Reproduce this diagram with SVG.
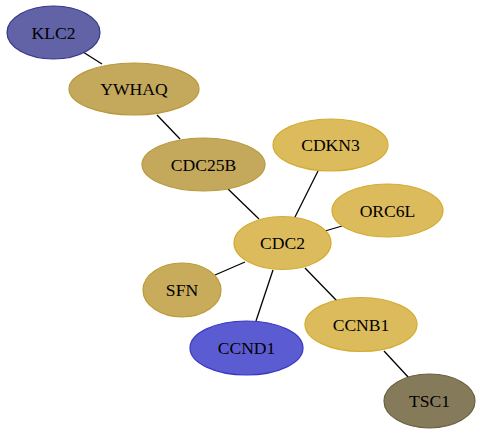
<svg xmlns="http://www.w3.org/2000/svg" width="481" height="435" viewBox="0 0 481 435">
<style>
text{font-family:"Liberation Serif","Times New Roman",serif;font-size:17.6px;text-anchor:middle;fill:#000}
ellipse{stroke-width:1.2}
.e{stroke:#000;stroke-width:1.3;fill:none}
.gold{fill:#dcbb5c;stroke:#d4ac30}
.olive{fill:#c4a85c;stroke:#b89a3c}
</style>
<rect width="481" height="435" fill="#fff"/>
<g id="connectors">
<line class="e" x1="83" y1="52" x2="102" y2="64"/>
<line class="e" x1="157" y1="115" x2="180" y2="139"/>
<line class="e" x1="228" y1="189" x2="259" y2="219"/>
<line class="e" x1="318" y1="171" x2="294" y2="219"/>
<line class="e" x1="342" y1="226" x2="325" y2="231"/>
<line class="e" x1="215" y1="275" x2="245" y2="262"/>
<line class="e" x1="256" y1="321" x2="273" y2="270"/>
<line class="e" x1="305" y1="268" x2="337" y2="301"/>
<line class="e" x1="384" y1="351" x2="409" y2="378"/>
</g>
<g id="KLC2"><ellipse cx="53.5" cy="32.5" rx="46.5" ry="26.5" fill="#6262a6" stroke="#36368a"/><text x="53.5" y="38.5">KLC2</text></g>
<g id="YWHAQ"><ellipse class="olive" cx="134" cy="89" rx="65" ry="26"/><text x="134" y="95">YWHAQ</text></g>
<g id="CDC25B"><ellipse class="olive" cx="203.5" cy="164.5" rx="61.5" ry="26.5"/><text x="203.5" y="170.5">CDC25B</text></g>
<g id="CDKN3"><ellipse class="gold" cx="330.5" cy="145" rx="57.5" ry="26"/><text x="330.5" y="151">CDKN3</text></g>
<g id="ORC6L"><ellipse class="gold" cx="387.5" cy="210.5" rx="55.5" ry="26.5"/><text x="387.5" y="216.5">ORC6L</text></g>
<g id="CDC2"><ellipse class="gold" cx="282.5" cy="243" rx="48.5" ry="26.5"/><text x="282.5" y="249">CDC2</text></g>
<g id="SFN"><ellipse cx="182" cy="290" rx="39" ry="27" fill="#c8ac5c" stroke="#bc9c34"/><text x="182" y="296">SFN</text></g>
<g id="CCND1"><ellipse cx="246.5" cy="348" rx="56.5" ry="27" fill="#5c5cd2" stroke="#3838c4"/><text x="246.5" y="354">CCND1</text></g>
<g id="CCNB1"><ellipse class="gold" cx="361" cy="324.5" rx="56" ry="27"/><text x="361" y="330.5">CCNB1</text></g>
<g id="TSC1"><ellipse cx="429.5" cy="401" rx="45.5" ry="27" fill="#857a5a" stroke="#6a6040"/><text x="429.5" y="407">TSC1</text></g>
</svg>
